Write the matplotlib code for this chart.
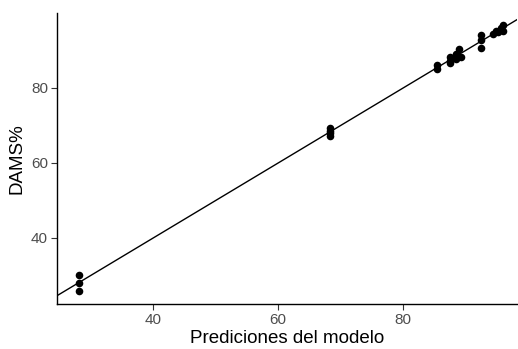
import matplotlib
matplotlib.use("Agg")
import matplotlib.pyplot as plt

# Predicted vs observed DAMS%
pred = [28.2, 28.2, 28.2, 68.3, 68.3, 68.3, 68.3,
        85.4, 85.4, 87.5, 87.5, 87.5, 88.5, 88.5, 89.0, 89.2,
        92.5, 92.5, 92.5, 94.4, 94.8, 95.2, 95.6, 95.9, 95.9]
obs = [30.1, 28.0, 25.9, 69.2, 68.5, 67.9, 67.3,
       86.2, 85.0, 88.2, 87.3, 86.6, 89.0, 87.8, 90.3, 88.2,
       94.0, 92.8, 90.6, 94.5, 95.2, 95.0, 96.0, 96.8, 95.3]
xticks = [40, 60, 80]
yticks = [40, 60, 80]

plt.rcParams['font.family'] = ['Liberation Sans', 'DejaVu Sans']

fig = plt.figure(figsize=(5.18, 3.49), dpi=100)
ax = fig.add_axes([0.110, 0.129, 0.888, 0.834])

ax.scatter(pred, obs, s=30, color="black", zorder=3, linewidths=0)
ax.axline((0, 0), slope=1, color="black", lw=1.0)

ax.set_xlim(24.6, 98.2)
ax.set_ylim(22.4, 100)
ax.set_xticks(xticks)
ax.set_yticks(yticks)
ax.tick_params(colors="#333333", labelcolor="#4d4d4d", labelsize=11, length=4, width=0.8, pad=2.5)
for side in ["top", "right"]:
    ax.spines[side].set_visible(False)
for side in ["left", "bottom"]:
    ax.spines[side].set_linewidth(1.0)

ax.set_xlabel("Prediciones del modelo", fontsize=13.5, labelpad=2)
ax.set_ylabel("DAMS%", fontsize=13.5, labelpad=4)

fig.savefig("out.png", dpi=100)
